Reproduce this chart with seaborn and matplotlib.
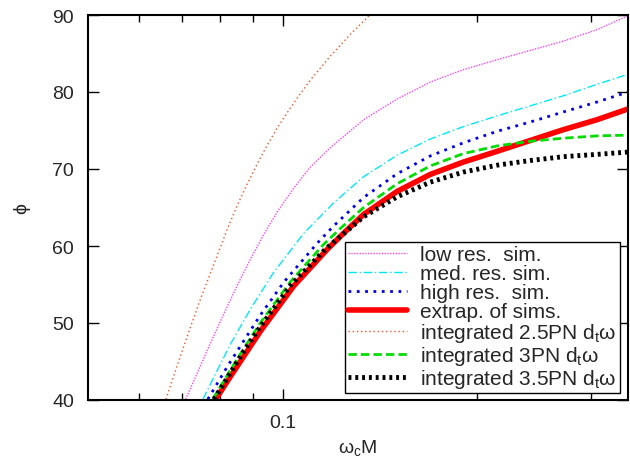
import matplotlib
matplotlib.use("Agg")
import matplotlib.pyplot as plt
import seaborn as sns
import pandas as pd
import numpy as np
from matplotlib.ticker import FixedLocator, NullFormatter, FixedFormatter

# =-= Data (omega_c M vs phi) =-= #

low_x = [0.0708, 0.0766, 0.0808, 0.0852, 0.0893, 0.0935, 0.0982, 0.1040, 0.1105, 0.1186, 0.1334, 0.1504,
         0.1692, 0.1903, 0.2147, 0.2414, 0.2715, 0.3063, 0.342]
low_y = [40.1, 46.6, 50.9, 55.0, 58.4, 61.5, 64.5, 67.5, 70.3, 72.8, 76.4, 79.1,
         81.3, 82.9, 84.2, 85.4, 86.6, 88.1, 89.9]

med_x = [0.0753, 0.0783, 0.0831, 0.0893, 0.0969, 0.1077, 0.1199, 0.1334, 0.1504, 0.1692, 0.1903, 0.2147,
         0.2414, 0.2715, 0.3063, 0.342]
med_y = [40.1, 43.0, 47.3, 51.9, 56.6, 61.6, 65.6, 69.0, 71.8, 73.9, 75.5, 76.9,
         78.2, 79.5, 81.0, 82.3]

high_x = [0.0766, 0.0822, 0.0871, 0.0925, 0.1004, 0.1132, 0.1199, 0.1334, 0.1504, 0.1692, 0.1903, 0.2147,
          0.2414, 0.2715, 0.3063, 0.342]
high_y = [40.1, 44.4, 47.7, 51.1, 55.3, 60.4, 62.6, 66.3, 69.4, 71.7, 73.4, 74.9,
          76.1, 77.4, 78.7, 80.0]

extrap_x = [0.0788, 0.0825, 0.0871, 0.0925, 0.1040, 0.1173, 0.1251, 0.1334, 0.1504, 0.1692, 0.1903, 0.2147,
            0.2414, 0.2715, 0.3063, 0.342]
extrap_y = [40.1, 42.7, 45.7, 49.0, 54.8, 59.6, 61.9, 64.1, 67.1, 69.3, 70.9, 72.3,
            73.7, 75.1, 76.4, 77.8]

pn25_x = [0.0660, 0.0689, 0.0721, 0.0747, 0.0794, 0.0822, 0.0852, 0.0883, 0.0915, 0.0948, 0.0982, 0.1018,
          0.1055, 0.1105, 0.1186, 0.1273, 0.1367]
pn25_y = [40.1, 44.8, 49.6, 53.2, 59.0, 62.3, 65.4, 68.2, 70.8, 73.2, 75.4, 77.4,
          79.3, 81.6, 84.7, 87.5, 90.1]

pn3_x = [0.0780, 0.0822, 0.0871, 0.0925, 0.1029, 0.1157, 0.1229, 0.1334, 0.1504, 0.1692, 0.1903, 0.2147,
         0.2414, 0.2715, 0.3063, 0.342]
pn3_y = [40.1, 43.3, 46.7, 50.1, 55.4, 60.2, 62.3, 65.0, 68.1, 70.4, 72.0, 73.0,
         73.6, 74.0, 74.3, 74.4]

pn35_x = [0.0783, 0.0820, 0.0864, 0.0918, 0.1029, 0.1165, 0.1334, 0.1504, 0.1692, 0.1903, 0.2147, 0.2414,
          0.2715, 0.3063, 0.342]
pn35_y = [40.1, 42.8, 45.9, 49.2, 54.9, 59.6, 63.8, 66.4, 68.3, 69.6, 70.5, 71.1,
          71.6, 71.9, 72.2]

sns.set_style("ticks")
plt.rcParams['font.family'] = ['Liberation Sans', 'DejaVu Sans']
plt.rcParams['xtick.direction'] = 'in'
plt.rcParams['ytick.direction'] = 'in'

fig = plt.figure(figsize=(6.3, 4.64), dpi=100)
ax = fig.add_axes([88/630, 63/464, 540/630, 385/464])

# (label, x, y, color, linestyle, linewidth)
series = [
    ("low res.  sim.", low_x, low_y, "#ff44ff", (0, (1, 1)), 1.0),
    ("med. res. sim.", med_x, med_y, "#00e8ff", (0, (6, 2, 1, 2)), 1.0),
    ("high res.  sim.", high_x, high_y, "#0000ee", (0, (1, 2)), 2.0),
    ("extrap. of sims.", extrap_x, extrap_y, "#ff0000", "-", 4.0),
    ("integrated 2.5PN d$_\\mathregular{t}$ω", pn25_x, pn25_y, "#ff5020", (0, (1, 2)), 1.0),
    ("integrated 3PN d$_\\mathregular{t}$ω", pn3_x, pn3_y, "#00dd00", (0, (3, 1.5)), 2.0),
    ("integrated 3.5PN d$_\\mathregular{t}$ω", pn35_x, pn35_y, "#000000", (0, (0.6, 0.8)), 3.5),
]

for label, xs, ys, color, ls, lw in series:
    df = pd.DataFrame({"x": xs, "y": ys})
    sns.lineplot(data=df, x="x", y="y", color=color, linestyle=ls, lw=lw,
                 label=label, sort=False, ax=ax)

ax.set_xscale("log")
ax.set_xlim(0.05, 0.342)
ax.set_ylim(40, 90)

ax.xaxis.set_major_locator(FixedLocator([0.1]))
ax.xaxis.set_major_formatter(FixedFormatter(["0.1"]))
ax.xaxis.set_minor_locator(FixedLocator([0.06, 0.07, 0.08, 0.09, 0.2, 0.3]))
ax.xaxis.set_minor_formatter(NullFormatter())
ax.set_yticks([40, 50, 60, 70, 80, 90])

ax.tick_params(which="both", top=True, right=True, labelsize=14, color="black")
ax.tick_params(which="major", length=8, width=1, pad=10)
ax.tick_params(which="minor", length=5, width=1)
for s in ax.spines.values():
    s.set_linewidth(1.5)
    s.set_color("black")

ax.set_xlabel("ω$_\\mathregular{c}$M", fontsize=14, labelpad=5)
ax.set_ylabel("ϕ", fontsize=14, labelpad=16)

leg = ax.legend(loc="lower right", bbox_to_anchor=(0.985, 0.018), fontsize=15,
                handlelength=2.8, handletextpad=0.65, labelspacing=0.0,
                borderpad=0.15, borderaxespad=0, fancybox=False, framealpha=1)
leg.get_frame().set_edgecolor("black")
leg.get_frame().set_linewidth(1.0)

fig.savefig("out.png", dpi=100)
